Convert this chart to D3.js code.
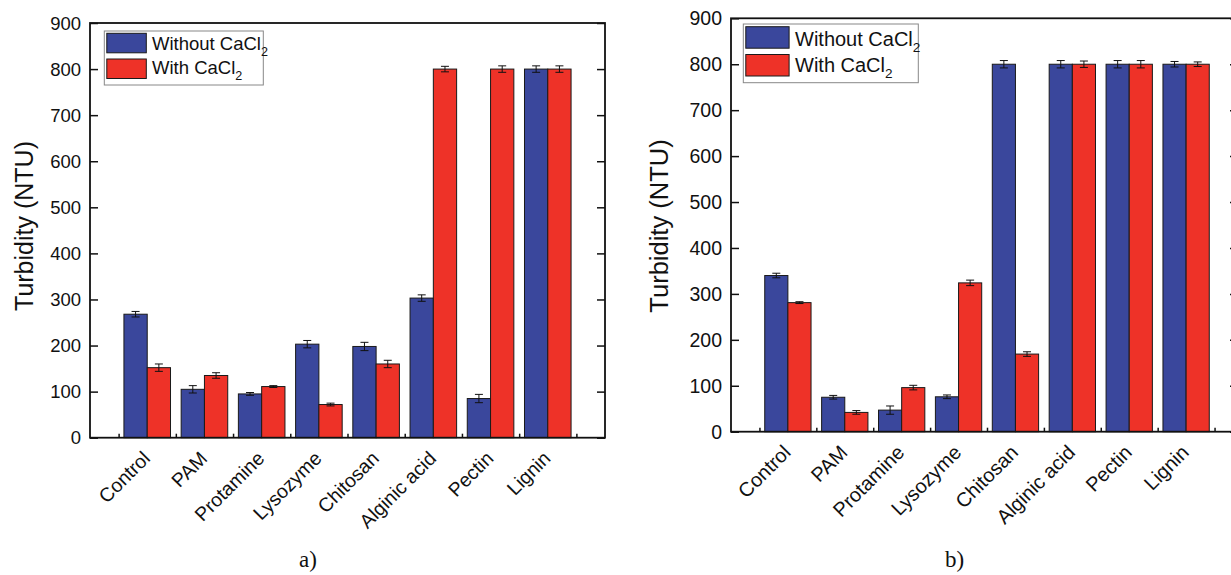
<!DOCTYPE html>
<html><head><meta charset="utf-8">
<script src="https://cdn.jsdelivr.net/npm/d3@7"></script>
<style>
html,body{margin:0;padding:0;background:#fff;}
svg{display:block;}
text{font-family:"Liberation Sans",Arial,Helvetica,sans-serif;fill:#111;}
</style></head>
<body>
<svg id="chart" width="1231" height="575"></svg>
<script>
const categories = ["Control","PAM","Protamine","Lysozyme","Chitosan","Alginic acid","Pectin","Lignin"];
const seriesNames = ["Without CaCl", "With CaCl"];
const aWithout    = [268,105, 95,203,198,303, 85,800];
const aWithoutErr = [  6,  8,  3,  8,  9,  7,  9,  7];
const aWith       = [152,135,111, 72,160,800,800,800];
const aWithErr    = [  8,  6,  2,  3,  8,  6,  7,  7];
const bWithout    = [340, 75, 47, 76,800,800,800,800];
const bWithoutErr = [  5,  4,  9,  4,  8,  8,  8,  6];
const bWith       = [281, 42, 96,324,169,800,800,800];
const bWithErr    = [  2,  4,  5,  6,  5,  7,  8,  5];
const yTicks = [0,100,200,300,400,500,600,700,800,900];
const panelLabels = ["a)", "b)"];

const colors = ["#3a479c", "#ee3228"];
const svg = d3.select("#chart");

function drawPanel(cfg) {
  const g = svg.append("g");
  const x = d3.scaleLinear().domain([0, categories.length + 1]).range([cfg.left, cfg.right]);
  const y = d3.scaleLinear().domain([0, 900]).range([cfg.bottom, cfg.top]);
  const bw = 0.407;
  const series = [cfg.s0, cfg.s1];
  const errs = [cfg.e0, cfg.e1];

  // bars
  series.forEach((vals, si) => {
    g.selectAll(null).data(vals).enter().append("rect")
      .attr("x", (d, i) => si === 0 ? x(i + 1 - bw) : x(i + 1))
      .attr("width", x(bw) - x(0))
      .attr("y", d => y(d))
      .attr("height", d => y(0) - y(d))
      .attr("fill", colors[si])
      .attr("stroke", "#1a1a1a")
      .attr("stroke-width", 1);
  });
  // error bars
  series.forEach((vals, si) => {
    const cx = i => x(i + 1 + (si === 0 ? -bw / 2 : bw / 2));
    const eg = g.append("g").attr("stroke", "#111").attr("stroke-width", 1);
    vals.forEach((v, i) => {
      const e = errs[si][i];
      eg.append("line").attr("x1", cx(i)).attr("x2", cx(i)).attr("y1", y(v + e)).attr("y2", y(v - e));
      eg.append("line").attr("x1", cx(i) - 4).attr("x2", cx(i) + 4).attr("y1", y(v + e)).attr("y2", y(v + e));
      eg.append("line").attr("x1", cx(i) - 4).attr("x2", cx(i) + 4).attr("y1", y(v - e)).attr("y2", y(v - e));
    });
  });

  // left axis (ticks inward)
  const leftAxis = d3.axisRight(y).tickValues(yTicks).tickSize(8).tickFormat("");
  const la = g.append("g").attr("transform", `translate(${cfg.left},0)`).call(leftAxis);
  la.select(".domain").remove();
  la.selectAll("line").attr("stroke", "#111").attr("stroke-width", 1.5);
  g.append("g").selectAll("text").data(yTicks).enter().append("text")
    .attr("x", cfg.left - 9).attr("y", d => y(d)).attr("dy", "0.36em")
    .attr("text-anchor", "end").style("font-size", cfg.fs + "px").text(d => d);

  // right axis (ticks inward)
  const rightAxis = d3.axisLeft(y).tickValues(yTicks).tickSize(8).tickFormat("");
  const ra = g.append("g").attr("transform", `translate(${cfg.frameRight},0)`).call(rightAxis);
  ra.select(".domain").remove();
  ra.selectAll("line").attr("stroke", "#111").attr("stroke-width", 1.5);

  // bottom axis: ticks between groups, inward
  const bTicks = d3.range(categories.length + 1).map(i => i + 0.5);
  const bottomAxis = d3.axisTop(x).tickValues(bTicks).tickSize(4).tickFormat("");
  const ba = g.append("g").attr("transform", `translate(0,${cfg.bottom})`).call(bottomAxis);
  ba.select(".domain").remove();
  ba.selectAll("line").attr("stroke", "#111").attr("stroke-width", 1.5);

  // frame
  g.append("rect").attr("x", cfg.left).attr("y", cfg.top)
    .attr("width", cfg.frameRight - cfg.left).attr("height", cfg.bottom - cfg.top)
    .attr("fill", "none").attr("stroke", "#111").attr("stroke-width", 1.8);

  // category labels
  g.append("g").selectAll("text").data(categories).enter().append("text")
    .attr("transform", (d, i) => `translate(${x(i + 1) + 4},${cfg.bottom + 22}) rotate(-45)`)
    .attr("text-anchor", "end").style("font-size", cfg.cfs + "px").text(d => d);

  // y label
  g.append("text")
    .attr("transform", `translate(${cfg.ylx},${cfg.yly}) rotate(-90)`)
    .attr("text-anchor", "middle").attr("dy", "0.35em")
    .style("font-size", cfg.yfs + "px").text("Turbidity (NTU)");

  // legend
  const L = cfg.legend;
  g.append("rect").attr("x", L.x).attr("y", L.y).attr("width", L.w).attr("height", L.h)
    .attr("fill", "#fff").attr("stroke", "#888").attr("stroke-width", 1);
  seriesNames.forEach((nm, si) => {
    g.append("rect").attr("x", L.x + 2.5).attr("y", L.sy[si]).attr("width", L.sw).attr("height", L.sh)
      .attr("fill", colors[si]).attr("stroke", "#1a1a1a").attr("stroke-width", 1);
    const t = g.append("text").attr("x", L.tx).attr("y", L.by[si]).style("font-size", L.fs + "px");
    t.append("tspan").text(nm);
    t.append("tspan").attr("dy", L.fs * 0.3).style("font-size", (L.fs * 0.68) + "px").text("2");
  });

  // panel label
  svg.append("text").attr("x", cfg.plx).attr("y", 567)
    .style("font-family", "'Liberation Serif','Times New Roman',serif")
    .style("font-size", "23px").text(cfg.panel);
}

drawPanel({
  left: 90, right: 605, frameRight: 605, top: 23, bottom: 437.7,
  s0: aWithout, e0: aWithoutErr, s1: aWith, e1: aWithErr,
  fs: 18.5, cfs: 19.5, yfs: 25, ylx: 24, yly: 226, panel: panelLabels[0], plx: 299,
  legend: {x: 104.3, y: 31, w: 159, h: 54, sw: 39.5, sh: 19.5, sy: [33.3, 59], tx: 152, by: [50, 74], fs: 18.5}
});
drawPanel({
  left: 731, right: 1243, frameRight: 1238, top: 18.3, bottom: 431.7,
  s0: bWithout, e0: bWithoutErr, s1: bWith, e1: bWithErr,
  fs: 19.5, cfs: 20, yfs: 25.5, ylx: 659, yly: 226, panel: panelLabels[1], plx: 945,
  legend: {x: 743.3, y: 24, w: 175, h: 58.7, sw: 43.3, sh: 21.5, sy: [26.7, 54.5], tx: 795, by: [46, 71.5], fs: 20}
});
</script>
</body></html>
